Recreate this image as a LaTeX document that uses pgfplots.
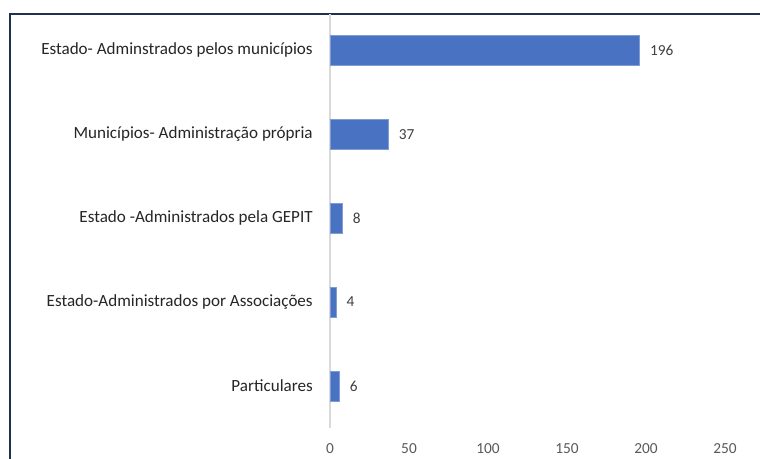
\documentclass[border=0pt]{standalone}
\usepackage{fontspec}
\setmainfont{Carlito}
\usepackage{pgfplots}
\pgfplotsset{compat=1.18}
\definecolor{barblue}{HTML}{4A72C2}
\definecolor{framecol}{HTML}{1F3050}
\definecolor{ticklab}{HTML}{595959}
\definecolor{catlab}{HTML}{262626}
\definecolor{vallab}{HTML}{404040}
\definecolor{axisgray}{HTML}{D9D9D9}
\begin{document}
\begin{tikzpicture}[x=0.75pt,y=0.75pt]
\useasboundingbox (0,0) rectangle (760,458);
\clip (0,0) rectangle (760,458);
\fill[white] (0,0) rectangle (760,458);
\draw[framecol, line width=1.5pt] (10,-10) -- (10,444) -- (770,444);
\begin{axis}[
  at={(247.5pt,22.5pt)}, anchor=south west,
  scale only axis, width=296.25pt, height=310.5pt,
  xbar, bar width=22.5pt,
  xmin=0, xmax=250, ymin=-0.5, ymax=4.43,
  xtick={0,50,...,250},
  ytick={0,1,2,3,4},
  yticklabels={Particulares, Estado-Administrados por Associações, Estado -Administrados pela GEPIT, Municípios- Administração própria, Estado- Adminstrados pelos municípios},
  axis y line*=left, axis x line*=bottom,
  x axis line style={draw=none},
  y axis line style={draw=axisgray, line width=0.8pt},
  major tick length=0pt,
  tick style={draw=none},
  /pgf/number format/assume math mode=true,
  xticklabel style={font=\fontsize{11.5}{13}\selectfont, text=ticklab, anchor=north, inner sep=0pt, yshift=-11.5pt},
  yticklabel style={font=\fontsize{12.8}{14}\selectfont, text=catlab, anchor=east, inner sep=0pt, xshift=-12.75pt},
  nodes near coords,
  point meta=x,
  nodes near coords style={font=\fontsize{11.5}{13}\selectfont, text=vallab, anchor=west, inner sep=0pt, xshift=7.5pt},
  clip=false,
]
\addplot[fill=barblue, draw=barblue!70!white, line width=0.5pt] coordinates {(6,0) (4,1) (8,2) (37,3) (196,4)};
\end{axis}
\end{tikzpicture}
\end{document}
